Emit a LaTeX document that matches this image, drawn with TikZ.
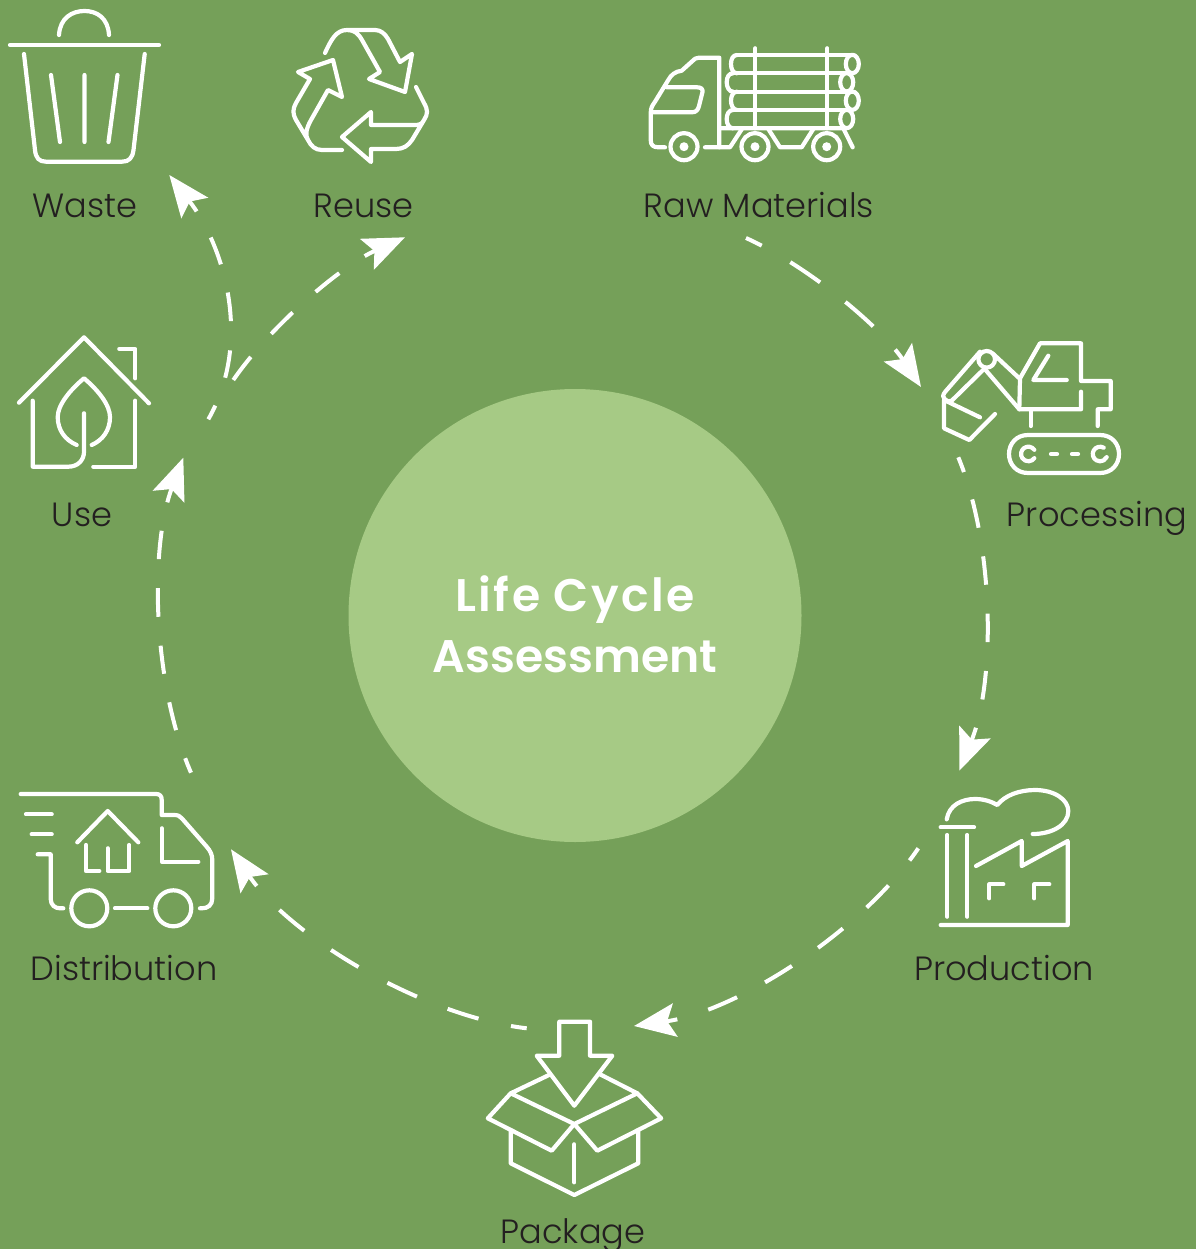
\documentclass[tikz,border=0pt]{standalone}
\usepackage{fontspec}
\usetikzlibrary{arrows.meta}
\newfontfamily\lablfont{Poppins Light}
\newfontfamily\titlefont{Poppins SemiBold}
\definecolor{bggreen}{HTML}{75A059}
\definecolor{disc}{HTML}{A6CA85}
\definecolor{ink}{HTML}{231F20}
\tikzset{
  iconbox/.style={inner sep=0pt,outer sep=0pt,minimum width=#1},
  ico/.style={draw=white,line width=4.2pt,line cap=round,line join=round},
  lbl/.style={text=ink,inner sep=0pt,anchor=base,font=\lablfont\fontsize{33.6}{40}\selectfont},
  flow/.style={draw=white,line width=4pt,-{Stealth[length=41.5pt,width=33.5pt,inset=8pt]}},
  arcflow/.style={flow,bend left=#1,looseness=0.78}
}
\begin{document}
\begin{tikzpicture}[x=1pt,y=-1pt]
\useasboundingbox (0,0) rectangle (1196,1249);
\fill[bggreen] (0,0) rectangle (1196,1249);
% centre disc
\node[circle,fill=disc,minimum size=453pt,inner sep=0pt] (lca) at (575,615.5) {};
\node[text=white,align=center,inner sep=0pt,font=\titlefont\fontsize{45.7}{61}\selectfont] (title) at (575,624) {\addfontfeature{LetterSpace=5.5}Life Cycle\\Assessment};
% icon extents
\node[iconbox=152pt,minimum height=153pt] (waste) at (84,86.5) {};
\node[iconbox=137pt,minimum height=136pt] (reuse) at (360.5,96) {};
\node[iconbox=212pt,minimum height=115pt] (raw) at (754,104.5) {};
\node[iconbox=179pt,minimum height=132pt] (proc) at (1030.5,408) {};
\node[iconbox=131pt,minimum height=138pt] (prod) at (1004.5,858) {};
\node[iconbox=175pt,minimum height=176pt] (pack) at (574.5,1109) {};
\node[iconbox=195pt,minimum height=136pt] (dist) at (116.5,860) {};
\node[iconbox=134pt,minimum height=133pt] (use) at (84,402.5) {};
% labels
\node[lbl] (lwaste) at (85,218) {Waste};
\node[lbl] (lreuse) at (363.5,218) {Reuse};
\node[lbl] (lraw) at (759,218) {Raw Materials};
\node[lbl] (lproc) at (1097,526) {Processing};
\node[lbl] (luse) at (82,526) {Use};
\node[lbl] (lprod) at (1004,980) {Production};
\node[lbl] (ldist) at (124,980) {Distribution};
\node[lbl] (lpack) at (573,1243) {Package};
% waste bin
\draw[ico] (59,35) .. controls (60,18) and (72,11) .. (84.5,11) .. controls (97,11) and (108,18) .. (109,35);
\draw[ico] (10,45) -- (159,45);
\draw[ico] (24,54) -- (35,150) .. controls (35.8,158) and (39,161.7) .. (46,161.7) -- (122,161.7) .. controls (129,161.7) and (132.5,158) .. (133.5,150) -- (144.7,54);
\draw[ico] (51,75) -- (60,142) (84.5,75) -- (84.5,142) (117.5,75) -- (108.5,142);
% recycle
\draw[ico] (325,53) .. controls (331,40) and (336,30) .. (347,30) -- (375,30) .. controls (381,30) and (385,34) .. (388,39) -- (400,62) -- (412,54) -- (405,92) -- (369,79) -- (380,72) -- (362,40) .. controls (358,33) and (354,30) .. (347,30);
\draw[ico] (342,150) -- (322,150) .. controls (315,150) and (311,146) .. (308,140) -- (296,120) .. controls (292.5,113) and (292.5,110) .. (296,103) -- (310,79) -- (298,72) -- (333,60) -- (342,97) -- (328,90) -- (311,120) .. controls (306,129) and (305,135) .. (308,140);
\draw[ico] (416,87) -- (424,103) .. controls (428,110) and (428,114) .. (424,120) .. controls (422,124) and (420,125) .. (415,125) -- (371,125) -- (371,112) -- (342,137) -- (371,162) -- (371,149) -- (396,149) .. controls (403,149) and (408,146) .. (412,140) -- (424,120);
% log truck
\draw[ico] (665,147.3) -- (658.3,147.3) .. controls (653,147.3) and (650.7,145) .. (650.7,140) -- (650.7,113.3) .. controls (650.7,108) and (652,106) .. (655,101.7) -- (668.3,80) .. controls (671,75) and (675,71.5) .. (681.7,70.7) -- (691.7,61.7) .. controls (694,59) and (696,57.7) .. (699,57.7) -- (719.3,57.7) -- (719.3,147.3);
\draw[ico] (705,147.3) -- (730,147.3) -- (741.7,129.3);
\draw[ico] (666.7,87.3) -- (697,87.3) .. controls (701,87.3) and (703,89) .. (702.5,92) -- (699,106) .. controls (698,110) and (696,112.3) .. (692,112.3) -- (652,112.3);
\draw[ico] (719.3,128.3) -- (843.3,128.3) -- (852.7,147.3);
\draw[ico] (768.3,129) -- (780,147.3) -- (801.7,147.3) -- (813.3,129);
\foreach \cx in {684,755,826.7}{
  \draw[ico] (\cx,146.7) circle[radius=13.5pt];
  \fill[white] (\cx,146.7) circle[radius=4.5pt];
}
\draw[ico] (737,55) .. controls (733,55) and (731,59) .. (731,64) .. controls (731,69) and (733,73.3) .. (737,73.3);
\draw[ico] (733,73.3) .. controls (729,73.3) and (726.7,77) .. (726.7,82.3) .. controls (726.7,87) and (729,91.7) .. (733,91.7);
\draw[ico] (737,91.7) .. controls (733,91.7) and (731,96) .. (731,100.7) .. controls (731,105) and (733,110) .. (737,110);
\draw[ico] (733,110) .. controls (729,110) and (726.7,114) .. (726.7,119) .. controls (726.7,124) and (729,128.3) .. (733,128.3);
\draw[ico] (737,55) -- (852,55) (733,73.3) -- (852,73.3) (733,91.7) -- (852,91.7) (733,110) -- (852,110);
\draw[ico] (852.3,64) ellipse[x radius=6.5pt,y radius=9.2pt];
\draw[ico] (846.7,82.3) ellipse[x radius=6.5pt,y radius=9.2pt];
\draw[ico] (852.3,100.7) ellipse[x radius=6.5pt,y radius=9.2pt];
\draw[ico] (846.7,119) ellipse[x radius=6.5pt,y radius=9.2pt];
\draw[ico] (755.3,48.3) -- (755.3,128.3) (827.3,48.3) -- (827.3,128.3);
% excavator
\draw[ico] (1020,378.3) -- (1040,343.3) -- (1081,343.3) -- (1081,381) -- (1110.7,381) -- (1110.7,409.3) -- (1097.7,409.3) -- (1097.7,426);
\draw[ico] (1081,391.7) -- (1081,409.3) -- (1019.3,409.3) -- (1020,378.3);
\draw[ico] (1030.7,409.3) -- (1030.7,426);
\draw[ico] (1048.3,355.7) -- (1033.3,380) -- (1066.7,380);
\draw[ico] (986.7,359.3) circle[radius=8.3pt];
\draw[ico] (980,351.7) -- (945,392) .. controls (942.5,395) and (942.5,398) .. (945,399.5) .. controls (947,401.5) and (949.5,402) .. (951.7,400.7) -- (983,370);
\draw[ico] (993.3,354) -- (1019.3,378.3);
\draw[ico] (985,369.3) -- (1019.3,409.3);
\draw[ico] (944,400) -- (944,428.3) -- (969.3,440) -- (995,414);
\draw[ico] (944,400) -- (980,417.3);
\draw[ico] (1028,435) -- (1100,435) .. controls (1112,435) and (1119,444) .. (1119,454) .. controls (1119,464) and (1112,473) .. (1100,473) -- (1028,473) .. controls (1016,473) and (1009,464) .. (1009,454) .. controls (1009,444) and (1016,435) .. (1028,435) -- cycle;
\draw[ico] (1034.3,449.8) arc[start angle=35,end angle=325,radius=7.3pt];
\draw[ico] (1103.7,447.7) arc[start angle=60,end angle=335,radius=7.3pt];
\draw[ico] (1051,454) -- (1057,454) (1072,454) -- (1078,454);
% factory
\draw[ico] (946.7,819.3) .. controls (949,805) and (962,799) .. (975,799) .. controls (985,799) and (992,802) .. (997.3,805) .. controls (1005,795) and (1020,790) .. (1035,790) .. controls (1055,790) and (1068.3,800) .. (1068.3,811) .. controls (1068.3,825) and (1052,834) .. (1032.7,834);
\draw[ico] (940.7,827.3) -- (974,827.3);
\draw[ico] (947.3,835) -- (947.3,916.7) (967.3,835) -- (967.3,916.7);
\draw[ico] (976,866) -- (1021.7,841) -- (1021.7,866) -- (1067.7,841) -- (1067.7,925) -- (940.7,925);
\draw[ico] (989.3,898.3) -- (989.3,884.3) -- (1003.3,884.3);
\draw[ico] (1034.3,898.3) -- (1034.3,884.3) -- (1049.3,884.3);
% package
\draw[ico] (559.3,1021.7) -- (590,1021.7) -- (590,1055.7) -- (612.3,1055.7) -- (574.3,1105.7) -- (536.7,1055.7) -- (559.3,1055.7) -- cycle;
\draw[ico] (549,1075) -- (510.7,1093.3) -- (574.3,1124) -- (637.3,1093.3) -- (600,1074.3);
\draw[ico] (510.7,1093.3) -- (487.8,1118.3) -- (551.7,1150.7) -- (574.3,1124) -- (597.3,1150.7) -- (661.2,1118.3) -- (637.3,1093.3);
\draw[ico] (510.7,1130) -- (510.7,1163.3) -- (574.3,1195) -- (638.3,1163.3) -- (638.3,1130);
\draw[ico] (574.3,1144.3) -- (574.3,1182.3);
% delivery van
\draw[ico] (20.7,794) -- (156,794) .. controls (160,794) and (161.7,796) .. (161.7,800) -- (161.7,815) -- (174,815) .. controls (178,815) and (180,816) .. (182,818.5) -- (206.7,846.7) .. controls (210.5,851) and (212.3,855) .. (212.3,860) -- (212.3,898.3) .. controls (212.3,905) and (208,908.3) .. (202,908.3) -- (200,908.3);
\draw[ico] (161.7,828.3) -- (161.7,861.7) -- (198.3,861.7);
\draw[ico] (26,814.3) -- (51.7,814.3) (31.7,834.3) -- (51.7,834.3);
\draw[ico] (37.7,854.3) -- (50.7,854.3) -- (50.7,899) .. controls (50.7,905) and (55,908.3) .. (60,908.3) -- (63.3,908.3);
\draw[ico] (89.3,908.3) circle[radius=18pt] (173.3,908.3) circle[radius=18pt];
\draw[ico] (115,908.3) -- (147.3,908.3);
\draw[ico] (77.3,842.3) -- (107.7,811) -- (138.3,842.3);
\draw[ico] (86,845) -- (86,871) -- (99.3,871);
\draw[ico] (107.7,848.3) -- (107.7,871) -- (129.3,871) -- (129.3,845);
% house
\draw[ico] (19,402.7) -- (84,337.3) -- (149,403.3);
\draw[ico] (119.3,349) -- (135.3,349) -- (135.3,378.3);
\draw[ico] (135.3,400.7) -- (135.3,466.7) -- (93.3,466.7);
\draw[ico] (32.7,400.7) -- (32.7,466.7) -- (68.3,466.7) .. controls (78,466.7) and (84,460) .. (84,451.7) -- (84,413.3);
\draw[ico] (76.7,445) .. controls (65,440) and (57.7,430) .. (57.7,417) .. controls (57.7,405) and (70,390) .. (84,378.3) .. controls (98,390) and (110,405) .. (110,417) .. controls (110,430) and (103,440) .. (91.7,445);
% connectors
\draw[arcflow=16,dash pattern=on 17.5pt off 33pt on 36pt off 32pt on 37pt off 32pt on 100pt]
  ([shift={(-8,76)}]raw.south) to ([shift={(-20,-21)}]proc.west);
\draw[arcflow=22.25,dash pattern=on 15.8pt off 28.6pt on 29pt off 29pt on 28.5pt off 29pt on 28.4pt off 29pt on 28.7pt off 29pt on 100pt]
  ([shift={(17.3,49.3)}]proc.west) to ([shift={(-45.2,-18.3)}]prod.north);
\draw[arcflow=23.8,dash pattern=on 15pt off 32.7pt on 31pt off 31.7pt on 31.5pt off 31.8pt on 31.5pt off 31.7pt on 31.4pt off 32.4pt on 100pt]
  ([shift={(-20.7,-9.7)}]prod.west) to ([shift={(59.5,5)}]pack.north);
\draw[arcflow=24.5,dash pattern=on 15.9pt off 33.3pt on 32.4pt off 33pt on 32.6pt off 33pt on 32.3pt off 33pt on 32.4pt off 33pt on 100pt]
  ([shift={(-47.8,7.3)}]pack.north) to ([shift={(17,-10.7)}]dist.east);
\draw[arcflow=22.1,dash pattern=on 15.6pt off 29.5pt on 28.7pt off 29pt on 28.3pt off 29pt on 28.7pt off 29pt on 28.5pt off 29pt on 100pt]
  ([shift={(74.5,-19.3)}]dist.north) to ([shift={(32.3,55.2)}]use.east);
\draw[arcflow=15.65,dash pattern=on 29pt off 30.8pt on 30.3pt off 30.8pt on 30.2pt off 30.6pt on 100pt]
  ([shift={(82.3,-22.5)}]use.east) to ([shift={(44.5,73.3)}]reuse.south);
\draw[flow,dash pattern=on 15.4pt off 29.6pt on 27.8pt off 29.3pt on 28.8pt off 29pt on 28.7pt off 29.7pt on 100pt]
  ([shift={(57.3,16.8)}]use.east) .. controls (253,341) and (224,246) .. ([shift={(85.3,12)}]waste.south);
\end{tikzpicture}
\end{document}
